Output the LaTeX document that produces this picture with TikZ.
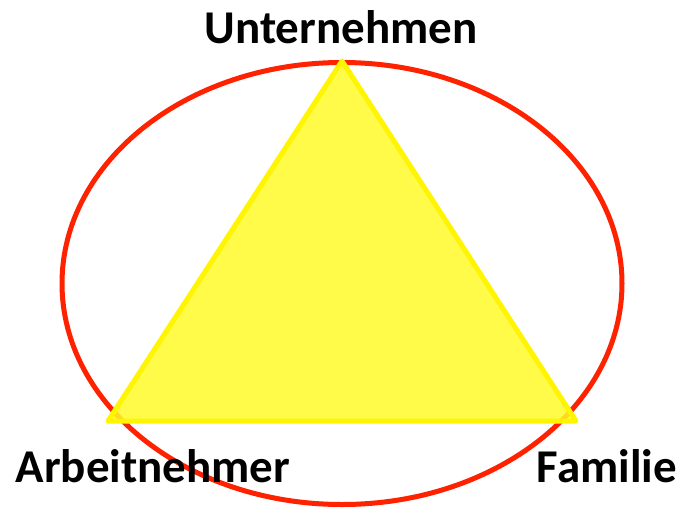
\documentclass[tikz,border=0pt]{standalone}
\usepackage{fontspec}
\setmainfont{Carlito}
\begin{document}
\begin{tikzpicture}[x=1pt,y=-1pt,
  lbl/.style={font=\bfseries\fontsize{47}{50}\selectfont, anchor=base, inner sep=0pt},
  ring/.style={draw={rgb,255:red,255;green,34;blue,0}, line width=5pt},
  tri/.style={draw={rgb,255:red,255;green,245;blue,0}, fill={rgb,255:red,255;green,250;blue,40}, fill opacity=0.85, draw opacity=1, line width=5pt, line join=round}]
\useasboundingbox (0,0) rectangle (681,507);
\draw[ring] (342,283.5) ellipse [x radius=280, y radius=221];
\coordinate (top) at (342,61);
\coordinate (bl) at (108,421);
\coordinate (br) at (576,421);
\filldraw[tri] (top) -- (bl) -- (br) -- cycle;
\node[lbl] (u) at (341,43) {Unternehmen};
\node[lbl] (a) at (153,482) {Arbeitnehmer};
\node[lbl] (f) at (607,482) {Familie};
\end{tikzpicture}
\end{document}
